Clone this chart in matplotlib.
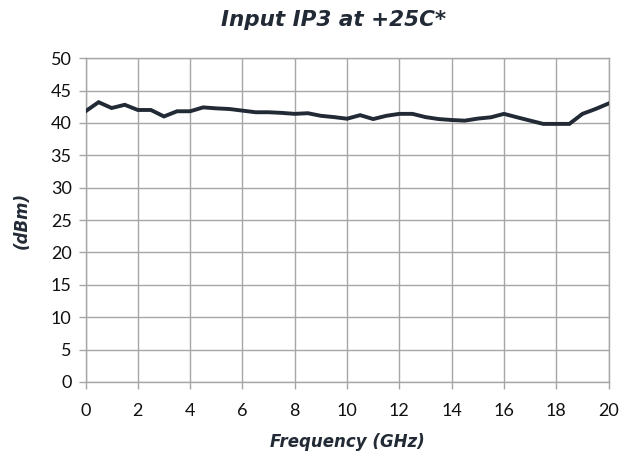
import matplotlib
matplotlib.use("Agg")
import matplotlib.pyplot as plt

freq_ghz = [0.0, 0.5, 1.0, 1.5, 2.0, 2.5, 3.0, 3.5, 4.0, 4.5, 5.0, 5.5, 6.0, 6.5, 7.0,
            7.5, 8.0, 8.5, 9.0, 9.5, 10.0, 10.5, 11.0, 11.5, 12.0, 12.5, 13.0, 13.5,
            14.0, 14.5, 15.0, 15.5, 16.0, 16.5, 17.0, 17.5, 18.0, 18.5, 19.0, 19.5, 20.0]
ip3_dbm = [41.8, 43.2, 42.3, 42.8, 42.0, 42.0, 41.0, 41.8, 41.8, 42.4, 42.25, 42.15,
           41.9, 41.65, 41.65, 41.55, 41.4, 41.5, 41.1, 40.9, 40.65, 41.2, 40.6, 41.1,
           41.4, 41.4, 40.9, 40.6, 40.45, 40.35, 40.67, 40.87, 41.4, 40.87, 40.36,
           39.85, 39.85, 39.85, 41.4, 42.15, 43.0]
x_ticks = [0, 2, 4, 6, 8, 10, 12, 14, 16, 18, 20]
y_ticks = [0, 5, 10, 15, 20, 25, 30, 35, 40, 45, 50]

fig = plt.figure(figsize=(6.31, 4.58), dpi=100)
ax = fig.add_axes([0.1355, 0.166, 0.829, 0.707])

ax.plot(freq_ghz, ip3_dbm, color="#222a35", lw=2.8, solid_joinstyle="miter", zorder=3)
ax.set_xlim(0, 20)
ax.set_ylim(0, 50)
ax.set_xticks(x_ticks)
ax.set_yticks(y_ticks)
ax.grid(True, color="#a6a6a6", lw=1.0)
for s in ax.spines.values():
    s.set_color("#a6a6a6")
    s.set_linewidth(1.0)
ax.tick_params(axis="both", colors="#a6a6a6", length=5, width=1.0, labelcolor="#111111",
               labelsize=13)
ax.tick_params(axis="x", pad=10)
ax.tick_params(axis="y", pad=5)
for lab in ax.get_xticklabels() + ax.get_yticklabels():
    lab.set_fontfamily("Lato")

title_font = dict(family="DejaVu Sans", style="italic", weight="bold", color="#222a35")
fig.text(0.528, 0.957, "Input IP3 at +25C*", ha="center", va="center", fontsize=15.5, **title_font)
ax.set_xlabel("Frequency (GHz)", fontsize=12, labelpad=10, **title_font)
ax.set_ylabel("(dBm)", fontsize=12, labelpad=14, **title_font)

fig.savefig("out.png", dpi=100)
